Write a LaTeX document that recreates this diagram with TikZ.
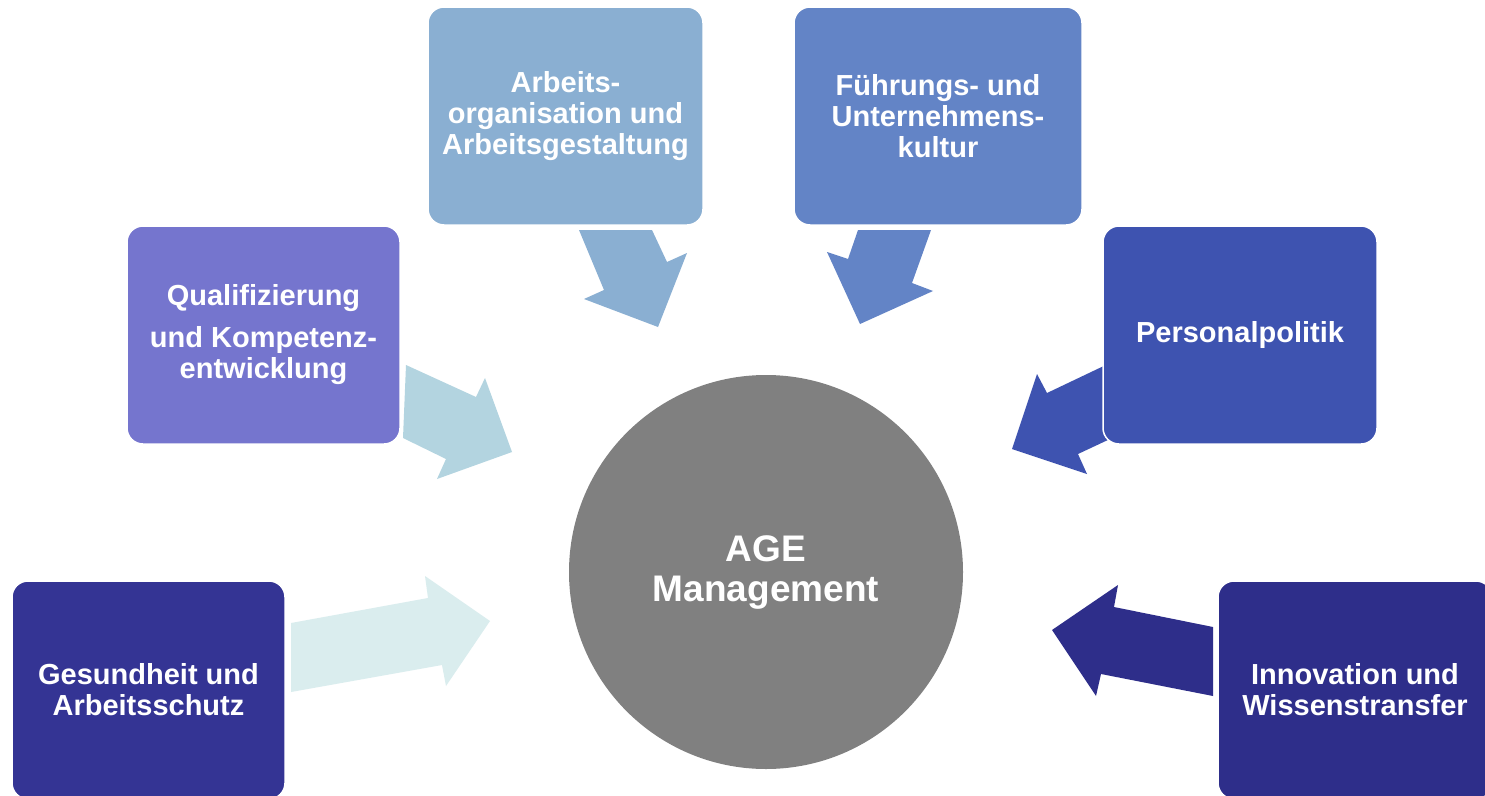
\documentclass[tikz,border=0pt]{standalone}
\usepackage{fontspec}
\setmainfont{Liberation Sans}
\definecolor{cArb}{HTML}{8AAFD2}
\definecolor{cFuehr}{HTML}{6384C6}
\definecolor{cQual}{HTML}{7575CE}
\definecolor{cPers}{HTML}{3E53B0}
\definecolor{cGes}{HTML}{343494}
\definecolor{cInno}{HTML}{2E2E8A}
\definecolor{cQualArrow}{HTML}{B3D4E0}
\definecolor{cGesArrow}{HTML}{DAEDEE}
\definecolor{cCircle}{HTML}{808080}
\tikzset{
  topicbox/.style={rectangle, rounded corners=16pt, draw=white, line width=1.5pt,
    minimum height=218pt, inner sep=0pt, text=white, align=center,
    font=\fontsize{29}{31}\selectfont\bfseries},
  blockarrow/.style={draw=none},
  hub/.style={circle, fill=cCircle, minimum size=394pt, inner sep=0pt, text=white,
    align=center, font=\fontsize{37}{40}\selectfont\bfseries}
}
\begin{document}
\begin{tikzpicture}[x=1pt,y=-1pt]
\useasboundingbox (0,0) rectangle (1485,795);
\clip (0,0) rectangle (1485,795);
\fill[white] (0,0) rectangle (1485,795);
% block arrows
\fill[blockarrow, cArb] (579,230) -- (652,230) -- (667,262) -- (687,253) -- (658,327) -- (584,299) -- (604,290) -- cycle;
\fill[blockarrow, cQualArrow] (406,365) -- (476,397) -- (485,378) -- (512,452) -- (437,479) -- (446,459) -- (403,438) -- cycle;
\fill[blockarrow, cFuehr] (858,230) -- (931,230) -- (912,283) -- (933,291) -- (860,324) -- (827,252) -- (848,259) -- cycle;
\fill[blockarrow, cPers] (1110,363) -- (1047,393) -- (1037,374) -- (1012,449) -- (1087,474) -- (1078,454) -- (1110,439) -- cycle;
\fill[blockarrow, cGesArrow] (291,623) -- (428,598) -- (425,576) -- (490,621) -- (446,686) -- (442,665) -- (291,692) -- cycle;
\fill[blockarrow, cInno] (1213,627) -- (1114,607) -- (1118,585) -- (1052,630) -- (1096,696) -- (1101,674) -- (1213,696) -- cycle;
% boxes
\node[topicbox, fill=cArb, minimum width=275pt] (arb) at (565.5,116) {Arbeits-\\organisation und\\Arbeitsgestaltung};
\node[topicbox, fill=cFuehr, minimum width=288pt] (fuehr) at (938,116) {Führungs- und\\Unternehmens-\\kultur};
\node[topicbox, fill=cQual, minimum width=273pt] (qual) at (263.5,335) {Qualifizierung\\[11pt]und Kompetenz-\\entwicklung};
\node[topicbox, fill=cPers, minimum width=274pt] (pers) at (1240,335) {Personalpolitik};
\node[topicbox, fill=cGes, minimum width=273pt] (ges) at (148.5,690) {Gesundheit und\\Arbeitsschutz};
\node[topicbox, fill=cInno, minimum width=274pt] (inno) at (1355,690) {Innovation und\\Wissenstransfer};
% hub
\node[hub] (age) at (766,572) {AGE\\Management};
\end{tikzpicture}
\end{document}
